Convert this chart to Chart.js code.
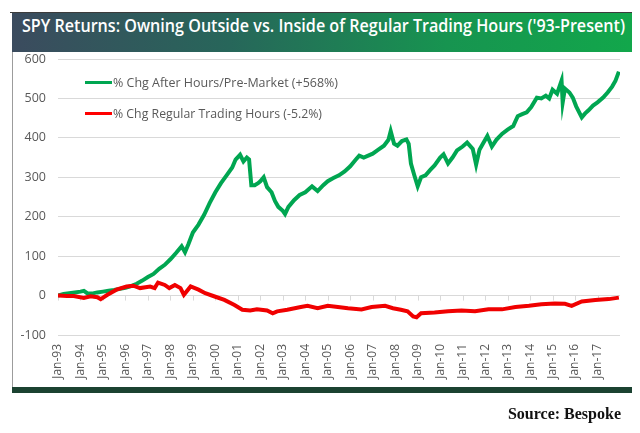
<!DOCTYPE html>
<html>
<head>
<meta charset="utf-8">
<script src="https://cdn.jsdelivr.net/npm/chart.js@4.4.1/dist/chart.umd.min.js"></script>
<style>
  html, body { margin: 0; padding: 0; background: #fff; }
  body { width: 640px; height: 433px; position: relative; overflow: hidden; }
  .abs { position: absolute; }
  #topline { left: 10px; top: 12px; width: 622px; height: 1px; background: #3c3c3c; }
  #title { left: 12px; top: 13px; width: 620px; height: 39px;
    background: linear-gradient(90deg, #3b4b5e 0%, #27665a 35%, #179450 70%, #12a74b 100%); }
  #titletext { left: 10px; top: 0; line-height: 39px; color: #fff; white-space: nowrap;
    font: 600 17.5px "Open Sans", "Noto Sans", sans-serif; transform-origin: 0 50%; }
  #leftborder { left: 12px; top: 52px; width: 1px; height: 335px; background: #9c9c9c; }
  #bottombar { left: 12px; top: 387px; width: 620px; height: 6px; background: #1b4231; }
  canvas { position: absolute; left: 0; top: 0; }
  .leg { white-space: nowrap; color: #595959; font: 12.5px "Open Sans", "Noto Sans", sans-serif;
    transform-origin: 0 50%; line-height: 16px; }
  .legline { height: 3px; width: 27px; }
  #source { right: 19px; top: 405px; font: bold 16px "Liberation Serif", "Times New Roman", serif; color: #111; white-space: nowrap; }
</style>
</head>
<body>
<div id="topline" class="abs"></div>
<div id="title" class="abs"><div id="titletext" class="abs fit" data-w="603">SPY Returns: Owning Outside vs. Inside of Regular Trading Hours ('93-Present)</div></div>
<div id="leftborder" class="abs"></div>
<canvas id="c" width="640" height="433"></canvas>
<div class="abs legline" style="left:85px; top:81px; background:#00a651;"></div>
<div class="abs leg fit" data-w="225" style="left:113px; top:75px;">% Chg After Hours/Pre-Market (+568%)</div>
<div class="abs legline" style="left:85px; top:112px; background:#ff0000;"></div>
<div class="abs leg fit" data-w="209" style="left:113px; top:106px;">% Chg Regular Trading Hours (-5.2%)</div>
<div id="bottombar" class="abs"></div>
<div id="source" class="abs">Source: Bespoke</div>
<script>
// ---- data (dates as decimal years) ----
const afterDates = [1993.0,1993.25,1993.5,1993.75,1994.0,1994.15,1994.3,1994.5,1994.75,1995.0,1995.25,1995.5,1995.75,1996.0,1996.25,1996.5,1996.75,1997.0,1997.25,1997.5,1997.75,1998.0,1998.25,1998.5,1998.65,1998.8,1999.0,1999.25,1999.5,1999.75,2000.0,2000.25,2000.5,2000.75,2000.9,2001.1,2001.25,2001.4,2001.5,2001.6,2001.75,2001.9,2002.0,2002.15,2002.3,2002.5,2002.65,2002.8,2003.0,2003.1,2003.25,2003.5,2003.75,2004.0,2004.3,2004.55,2004.8,2005.0,2005.25,2005.5,2005.75,2006.0,2006.25,2006.4,2006.6,2006.8,2007.0,2007.25,2007.5,2007.7,2007.8,2007.95,2008.1,2008.3,2008.5,2008.6,2008.7,2008.85,2009.0,2009.15,2009.35,2009.55,2009.75,2010.0,2010.15,2010.35,2010.55,2010.75,2011.0,2011.2,2011.45,2011.6,2011.75,2011.9,2012.1,2012.3,2012.5,2012.75,2013.0,2013.25,2013.45,2013.65,2013.85,2014.05,2014.3,2014.5,2014.7,2014.85,2015.0,2015.2,2015.4,2015.45,2015.55,2015.75,2015.9,2016.05,2016.3,2016.45,2016.6,2016.8,2017.0,2017.25,2017.45,2017.65,2017.8,2017.95];
const afterValues = [0,4,6,8,10,12,6,5,8,10,12,14,17,20,24,30,38,47,55,68,78,92,108,125,110,130,160,180,205,235,262,285,305,325,345,357,340,350,345,280,280,285,290,300,275,262,240,225,215,207,225,242,255,262,277,265,280,290,298,305,315,328,345,355,350,355,360,370,380,395,417,385,380,392,396,385,335,305,277,300,305,318,330,350,358,335,350,368,378,388,372,332,370,385,405,378,395,410,421,430,455,460,465,478,502,500,507,500,522,512,545,490,525,515,502,480,452,462,470,482,490,502,515,530,545,568];

const regDates = [1993.0,1993.4,1993.7,1994.15,1994.45,1994.75,1994.9,1995.2,1995.6,1996.05,1996.35,1996.65,1997.1,1997.3,1997.45,1997.75,1997.95,1998.2,1998.45,1998.6,1998.9,1999.25,1999.55,2000.0,2000.4,2000.85,2001.2,2001.55,2001.85,2002.3,2002.55,2002.75,2003.2,2003.8,2004.1,2004.55,2005.0,2005.45,2005.9,2006.5,2006.95,2007.55,2007.9,2008.25,2008.55,2008.8,2008.95,2009.15,2009.75,2010.35,2010.95,2011.55,2012.15,2012.75,2013.35,2013.95,2014.5,2015.1,2015.55,2015.85,2016.3,2016.9,2017.5,2017.95];
const regValues = [0,-1,-1,-6,-2,-4,-9,2,15,23,25,19,23,19,33,27,19,27,19,2,23,15,6,-3,-11,-24,-36,-38,-35,-38,-45,-40,-36,-29,-26,-32,-26,-29,-32,-35,-29,-26,-32,-36,-40,-53,-55,-45,-43,-40,-38,-40,-35,-35,-29,-26,-22,-20,-21,-26,-15,-11,-9,-5.2];

const yearTicks = [1993,1994,1995,1996,1997,1998,1999,2000,2001,2002,2003,2004,2005,2006,2007,2008,2009,2010,2011,2012,2013,2014,2015,2016,2017];
const tickLabel = y => 'Jan-' + String(y).slice(2);

const toPts = (xs, ys) => xs.map((x, i) => ({ x: x, y: ys[i] }));

const zeroTicks = {
  id: 'zeroTicks',
  beforeDatasetsDraw(chart) {
    const ctx = chart.ctx, xs = chart.scales.x, ys = chart.scales.y;
    const y0 = ys.getPixelForValue(0);
    ctx.save();
    ctx.strokeStyle = '#d9d9d9';
    ctx.lineWidth = 1;
    ctx.beginPath();
    yearTicks.forEach(t => {
      const px = Math.round(xs.getPixelForValue(t)) + 0.5;
      ctx.moveTo(px, y0); ctx.lineTo(px, y0 + 5);
    });
    ctx.stroke();
    ctx.restore();
  }
};

new Chart(document.getElementById('c'), {
  type: 'line',
  data: {
    datasets: [
      { label: '% Chg Regular Trading Hours (-5.2%)', data: toPts(regDates, regValues),
        borderColor: '#f00000', borderWidth: 4, pointRadius: 0, tension: 0, fill: false },
      { label: '% Chg After Hours/Pre-Market (+568%)', data: toPts(afterDates, afterValues),
        borderColor: '#00a651', borderWidth: 4, pointRadius: 0, tension: 0, fill: false }
    ]
  },
  options: {
    responsive: false,
    animation: false,
    layout: { padding: { left: 13, right: 20, top: 59, bottom: 0 } },
    plugins: { legend: { display: false }, tooltip: { enabled: false } },
    scales: {
      x: {
        type: 'linear', min: 1993, max: 2018,
        afterFit: s => { s.height = 98; },
        afterBuildTicks: s => { s.ticks = yearTicks.map(v => ({ value: v })); },
        grid: { display: false, drawTicks: false },
        border: { display: false },
        ticks: { autoSkip: false, maxRotation: 90, minRotation: 90, padding: 9,
          color: '#595959', font: { family: 'Open Sans', size: 12 },
          callback: v => tickLabel(v) }
      },
      y: {
        min: -100, max: 600,
        afterFit: s => { s.width = 45; },
        grid: { color: '#d9d9d9', lineWidth: 1, drawTicks: false },
        border: { display: false },
        ticks: { stepSize: 100, padding: 12, color: '#595959', font: { family: 'Open Sans', size: 12.5 } }
      }
    }
  },
  plugins: [zeroTicks]
});

function fitAll() {
  document.querySelectorAll('.fit').forEach(el => {
    el.style.transform = 'none';
    const w = el.getBoundingClientRect().width;
    const target = parseFloat(el.dataset.w);
    if (w > 0) el.style.transform = 'scaleX(' + (target / w) + ')';
  });
}
fitAll();
if (document.fonts && document.fonts.ready) document.fonts.ready.then(fitAll);
</script>
</body>
</html>
